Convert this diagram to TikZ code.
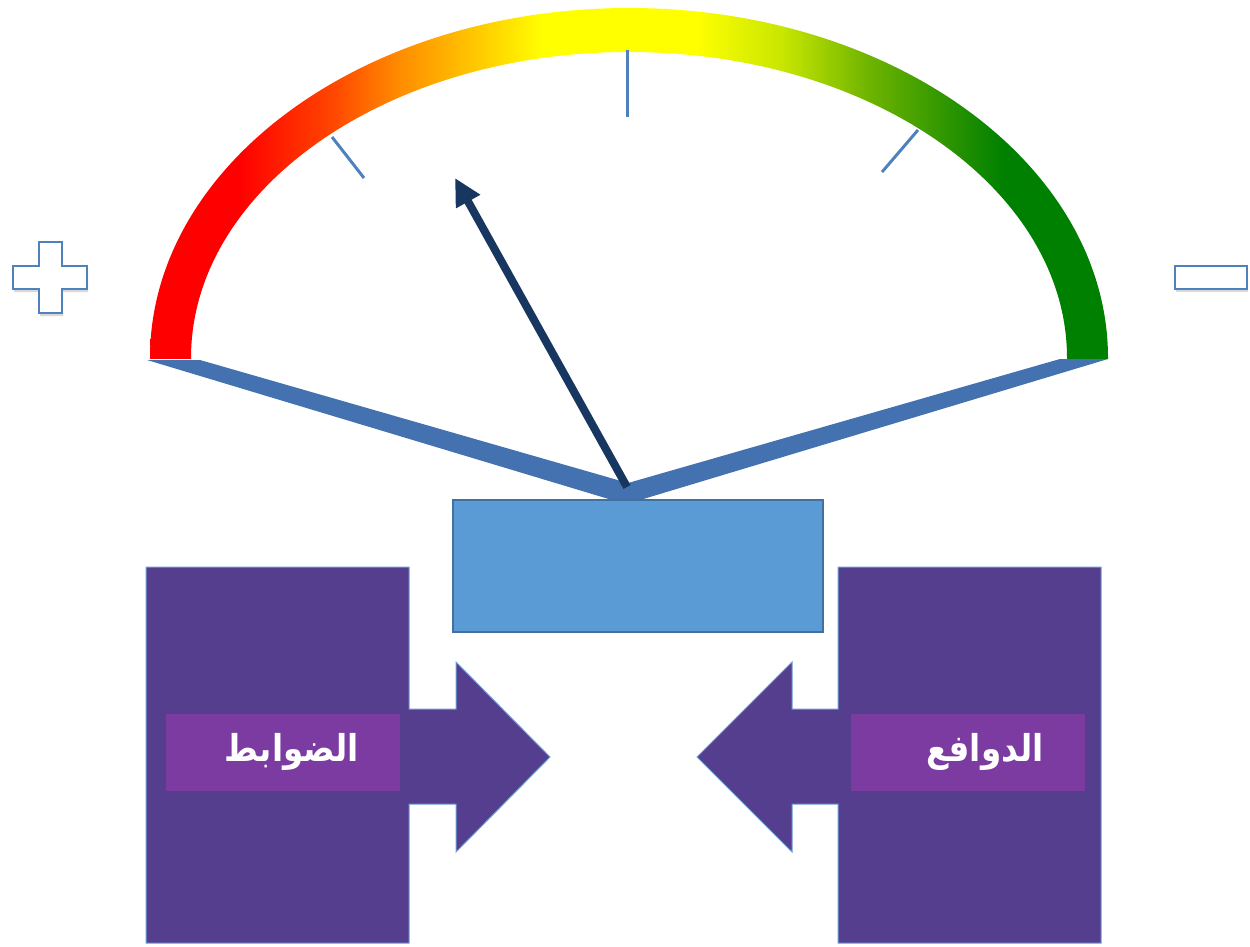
\documentclass[tikz,border=0pt]{standalone}
\usepackage{fontspec}
\newfontfamily\arabicfont[Script=Arabic,FakeStretch=0.88]{DejaVu Sans}
\TeXXeTstate=1
\usetikzlibrary{arrows.meta,shadows}
\definecolor{gRed}{RGB}{255,0,0}
\definecolor{gOrRed}{RGB}{255,70,0}
\definecolor{gOrange}{RGB}{255,140,0}
\definecolor{gGold}{RGB}{255,200,0}
\definecolor{gYellow}{RGB}{255,255,0}
\definecolor{gLime}{RGB}{200,230,0}
\definecolor{gLGreen}{RGB}{110,180,0}
\definecolor{gGreen}{RGB}{0,128,0}
\definecolor{vblue}{RGB}{68,114,176}
\definecolor{tickblue}{RGB}{79,129,189}
\definecolor{navy}{RGB}{24,55,96}
\definecolor{boxfill}{RGB}{91,155,213}
\definecolor{boxline}{RGB}{65,113,156}
\definecolor{purp}{RGB}{84,62,141}
\definecolor{labpurp}{RGB}{123,59,161}
\definecolor{edgeblue}{RGB}{110,160,215}
\pgfdeclarehorizontalshading{gauge}{100bp}{color(0bp)=(gRed); color(29.7bp)=(gRed); color(34.5bp)=(gOrRed); color(38bp)=(gOrange); color(42bp)=(gGold); color(45.5bp)=(gYellow); color(53.5bp)=(gYellow); color(58bp)=(gLime); color(62.5bp)=(gLGreen); color(69.5bp)=(gGreen); color(100bp)=(gGreen)}
\tikzset{
  tickline/.style={draw=tickblue, line width=3pt},
  signshape/.style={draw=tickblue, line width=1.5pt, fill=white, drop shadow={opacity=0.3, shadow xshift=1pt, shadow yshift=-3pt}},
  block/.style={fill=purp, draw=edgeblue, line width=1pt},
  labelbox/.style={fill=labpurp, minimum width=234pt, minimum height=77pt, inner sep=0pt},
  labeltext/.style={text=white, inner sep=0pt, font=\arabicfont\bfseries\fontsize{37}{42}\selectfont}
}
\begin{document}
\begin{tikzpicture}[x=1pt,y=-1pt]
\useasboundingbox (0,0) rectangle (1250,947);
% gauge band
\begin{scope}
  \clip (0,0) rectangle (1250,358);
  \path[shading=gauge, even odd rule] (629,358) ellipse[x radius=479, y radius=350] (629,358) ellipse[x radius=438, y radius=306];
\end{scope}
% ticks
\coordinate (t1a) at (332,137); \coordinate (t1b) at (364,178);
\coordinate (t2a) at (627,50);  \coordinate (t2b) at (627,117);
\coordinate (t3a) at (918,130); \coordinate (t3b) at (882,172);
\draw[tickline] (t1a) -- (t1b);
\draw[tickline] (t2a) -- (t2b);
\draw[tickline] (t3a) -- (t3b);
% V base
\fill[vblue] (147,360) -- (200,360) -- (628,483) -- (1060,359) -- (1108,359) -- (640,500) -- (612,500) -- cycle;
% needle
\coordinate (pivot) at (627,487);
\coordinate (ntip) at (455,178);
\draw[navy, line width=8pt, -{Triangle[length=27pt,width=26pt]}] (pivot) -- (ntip);
% center box
\node[draw=boxline, line width=2pt, fill=boxfill, minimum width=370pt, minimum height=132pt, inner sep=0pt] (center) at (638,566) {};
% left block with right arrow
\path[block] (146,567) -- (409,567) -- (409,709) -- (456,709) -- (456,662) -- (550,757) -- (456,852) -- (456,804) -- (409,804) -- (409,943) -- (146,943) -- cycle;
% right block with left arrow
\path[block] (1101,567) -- (838,567) -- (838,709) -- (792,709) -- (792,662) -- (697,757) -- (792,852) -- (792,804) -- (838,804) -- (838,943) -- (1101,943) -- cycle;
\node[labelbox] (ctrlbox) at (283,752.5) {};
\node[labelbox] (motivbox) at (968,752.5) {};
\node[labeltext] (ctrl) at (292,752) {\beginR الضوابط\endR};
\node[labeltext] (motiv) at (985,752) {\beginR الدوافع\endR};
% plus and minus
\path[signshape] (39,242) -- (62,242) -- (62,266) -- (87,266) -- (87,289) -- (62,289) -- (62,313) -- (39,313) -- (39,289) -- (13,289) -- (13,266) -- (39,266) -- cycle;
\path[signshape] (1175,266) rectangle (1247,289);
\end{tikzpicture}
\end{document}
